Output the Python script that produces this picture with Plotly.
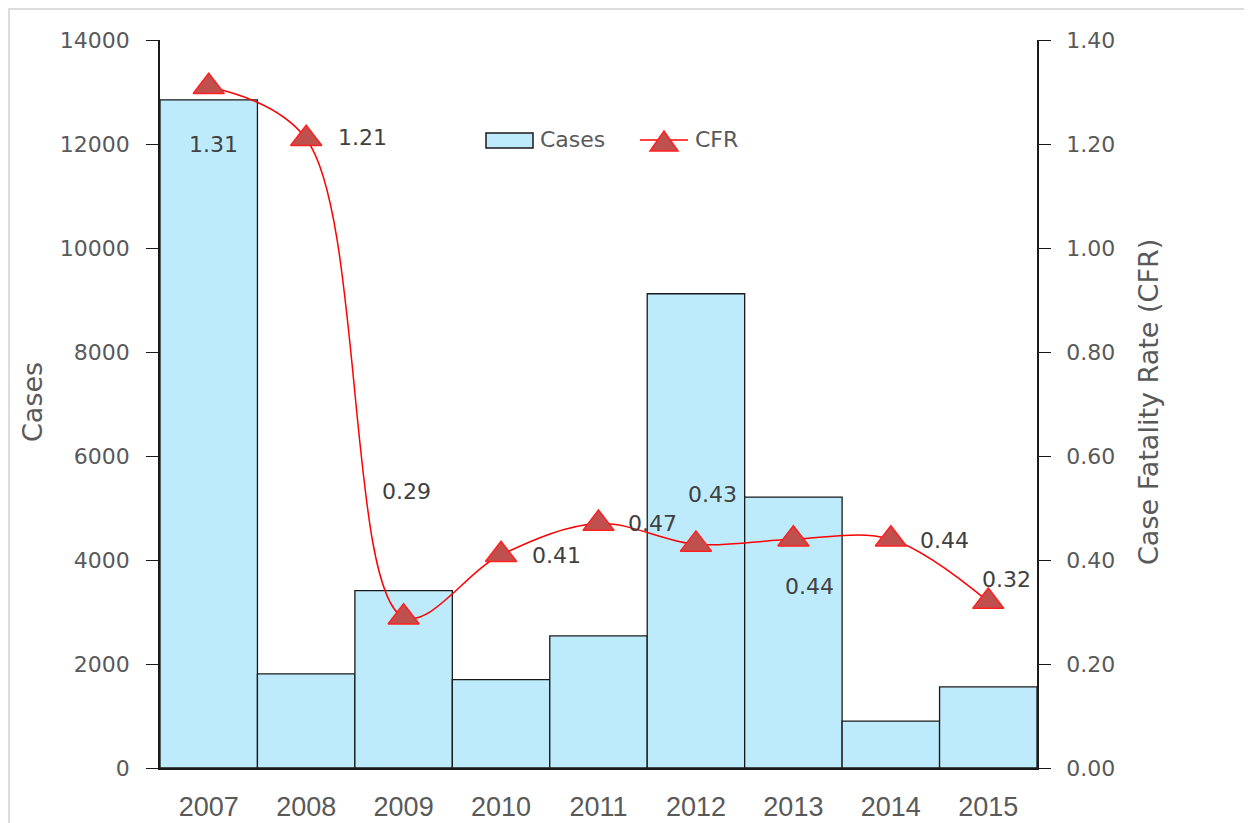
import plotly.graph_objects as go

years = ["2007", "2008", "2009", "2010", "2011", "2012", "2013", "2014", "2015"]
cases = [12850, 1810, 3410, 1700, 2540, 9120, 5210, 900, 1560]
cfr = [1.31, 1.21, 0.29, 0.41, 0.47, 0.43, 0.44, 0.44, 0.32]
cfr_labels = ["1.31", "1.21", "0.29", "0.41", "0.47", "0.43", "0.44", "0.44", "0.32"]
# label offsets in pixels (x, y) relative to each marker
label_dx = [5, 56, 3, 55, 54, 17, 16, 54, 18]
label_dy = [-58, 1, 126, -1, 0, 50, -47, -1, 22]

# plot area in page pixels (for placing decorations)
PL, PR, PT, PB = 160, 1037, 40, 768


def px(x):
    return (x - PL) / (PR - PL)


def py(y):
    return (PB - y) / (PB - PT)


WIDE = "DejaVu Sans, Verdana, sans-serif"
NARROW = "Liberation Sans Narrow, Liberation Sans, sans-serif"
TXT = "#595959"

fig = go.Figure()
fig.add_trace(go.Bar(
    x=list(range(len(years))), y=cases, name="Cases", width=1,
    marker=dict(color="#BDEBFC", line=dict(color="#1a1a1a", width=1.3)),
    showlegend=False,
))
fig.add_trace(go.Scatter(
    x=list(range(len(years))), y=cfr, name="CFR", yaxis="y2", mode="lines+markers",
    line=dict(color="#FF0000", width=1.5, shape="spline", smoothing=1.0),
    marker=dict(symbol="triangle-up", size=27, color="#C0504D",
                line=dict(color="#FF2020", width=1.5)),
    showlegend=False,
))
for i in range(len(years)):
    fig.add_annotation(x=i, y=cfr[i], yref="y2", text=cfr_labels[i], showarrow=False,
                       xshift=label_dx[i], yshift=label_dy[i],
                       font=dict(family=WIDE, size=22, color="#404040"))

# manual legend
fig.add_shape(type="rect", xref="paper", yref="paper", x0=px(486), x1=px(533), y0=py(148), y1=py(133),
              fillcolor="#BDEBFC", line=dict(color="#1a1a1a", width=1.5))
fig.add_annotation(xref="paper", yref="paper", x=px(538), y=py(140), text="Cases", showarrow=False,
                   xanchor="left", yanchor="middle", font=dict(family=WIDE, size=22, color=TXT))
fig.add_shape(type="line", xref="paper", yref="paper", x0=px(640), x1=px(688), y0=py(140), y1=py(140),
              line=dict(color="#FF0000", width=1.5))
tri = f"M {px(650)} {py(151)} L {px(678)} {py(151)} L {px(664)} {py(131)} Z"
fig.add_shape(type="path", xref="paper", yref="paper", path=tri,
              fillcolor="#C0504D", line=dict(color="#FF2020", width=1.5))
fig.add_annotation(xref="paper", yref="paper", x=px(693), y=py(140), text="CFR", showarrow=False,
                   xanchor="left", yanchor="middle", font=dict(family=WIDE, size=22, color=TXT))

# axis titles
fig.add_annotation(xref="paper", yref="paper", x=px(32), y=py(402), text="Cases", showarrow=False,
                   textangle=-90, xanchor="center", yanchor="middle",
                   font=dict(family=WIDE, size=27, color=TXT))
fig.add_annotation(xref="paper", yref="paper", x=px(1148), y=py(402), text="Case Fatality Rate (CFR)",
                   showarrow=False, textangle=-90, xanchor="center", yanchor="middle",
                   font=dict(family=WIDE, size=27, color=TXT))

fig.update_layout(
    width=1252, height=823, autosize=False,
    margin=dict(l=152, r=223, t=32, b=63),
    paper_bgcolor="white", plot_bgcolor="white",
    showlegend=False,
    xaxis=dict(range=[-0.5, len(years) - 0.5], tickvals=list(range(len(years))), ticktext=years,
               showline=True, linecolor="#1a1a1a", linewidth=1.5, automargin=False,
               ticks="", tickfont=dict(family=NARROW, size=27, color=TXT),
               showgrid=False, zeroline=False, ticklabelstandoff=14),
    yaxis=dict(range=[0, 14000], tickvals=list(range(0, 14001, 2000)), tickformat="d", showline=True,
               linecolor="#1a1a1a", linewidth=1.5, ticks="outside", ticklen=12, tickcolor="#1a1a1a",
               tickfont=dict(family=WIDE, size=22, color=TXT), ticklabelstandoff=12,
               showgrid=False, zeroline=False, automargin=False),
    yaxis2=dict(range=[0, 1.4], tickvals=[0, 0.2, 0.4, 0.6, 0.8, 1.0, 1.2, 1.4], tickformat=".2f",
                overlaying="y", side="right", showline=True, linecolor="#1a1a1a", linewidth=1.5,
                ticks="outside", ticklen=12, tickcolor="#1a1a1a",
                tickfont=dict(family=WIDE, size=22, color=TXT), ticklabelstandoff=11,
                showgrid=False, zeroline=False, automargin=False),
)
fig.add_shape(type="rect", xref="paper", yref="paper", x0=px(9), x1=px(1270), y0=py(840), y1=py(9),
              line=dict(color="#DDDDDD", width=2), fillcolor="rgba(0,0,0,0)", layer="below")
fig.write_html("out.html")
